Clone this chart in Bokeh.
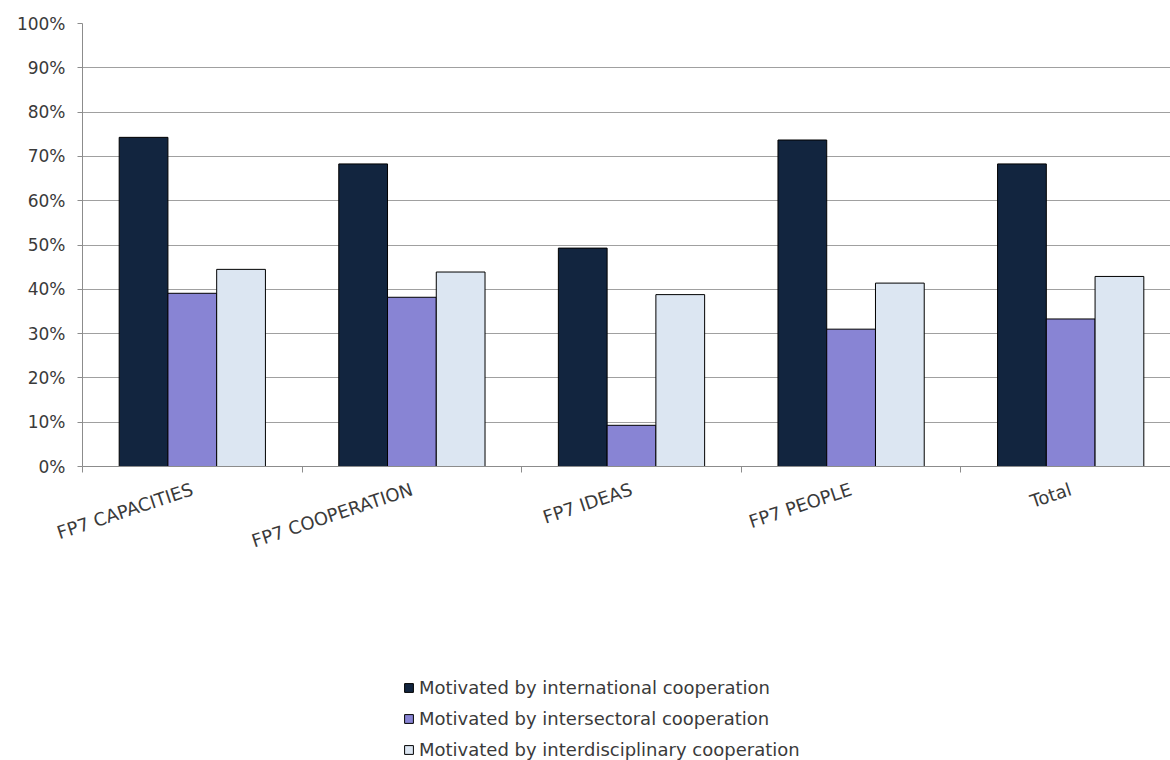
from bokeh.plotting import figure
from bokeh.layouts import column
from bokeh.models import (ColumnDataSource, FixedTicker, Range1d, Legend, LegendItem,
                          PrintfTickFormatter)
from bokeh.transform import dodge
from bokeh.embed import file_html
from bokeh.resources import INLINE

# ---------------- data ----------------
categories = ["FP7 CAPACITIES", "FP7 COOPERATION", "FP7 IDEAS", "FP7 PEOPLE", "Total"]
international = [74.3, 68.3, 49.3, 73.7, 68.3]
intersectoral = [39.1, 38.2, 9.3, 31.0, 33.3]
interdisciplinary = [44.5, 43.9, 38.8, 41.4, 42.9]
series_names = ["Motivated by international cooperation",
                "Motivated by intersectoral cooperation",
                "Motivated by interdisciplinary cooperation"]
y_ticks = list(range(0, 101, 10))

# ---------------- styling ----------------
colors = ["#12253F", "#8884D4", "#DCE6F2"]
FONT = "DejaVu Sans"
TEXT = "#3A3A3A"
AXIS = "#8C8C8C"
GRID = "#A0A0A0"

pos = list(range(1, len(categories) + 1))
boundaries = [p - 0.5 for p in pos] + [pos[-1] + 0.5]

src = ColumnDataSource(dict(x=pos, intl=international, inter=intersectoral,
                            interd=interdisciplinary))

W = 1170
H1, H2 = 600, 160
p = figure(width=W, height=H1, output_backend="svg", toolbar_location=None,
           x_range=Range1d(0.5, 0.5 + 1088 / 219.6), y_range=Range1d(0, 100),
           min_border_left=82, min_border_right=0, min_border_top=23,
           min_border_bottom=H1 - 466)
p.outline_line_color = None
p.background_fill_color = "white"
p.border_fill_color = "white"

bw = 0.222
for col, off, c in zip(["intl", "inter", "interd"], [-bw, 0, bw], colors):
    p.vbar(x=dodge("x", off, range=p.x_range), top=col, width=bw, source=src,
           fill_color=c, line_color="black", line_width=1)

# y axis
p.yaxis.ticker = FixedTicker(ticks=y_ticks)
p.yaxis.formatter = PrintfTickFormatter(format="%d%%")
p.yaxis.axis_line_color = AXIS
p.yaxis.major_tick_line_color = AXIS
p.yaxis.major_tick_out = 5
p.yaxis.major_tick_in = 0
p.yaxis.minor_tick_line_color = None
p.yaxis.major_label_standoff = 12
p.yaxis.major_label_text_font = FONT
p.yaxis.major_label_text_font_size = "17px"
p.yaxis.major_label_text_color = TEXT

# x axis
p.xaxis.ticker = FixedTicker(ticks=pos, minor_ticks=boundaries)
p.xaxis.major_label_overrides = {k: v for k, v in zip(pos, categories)}
p.xaxis.axis_line_color = AXIS
p.xaxis.major_tick_line_color = None
p.xaxis.major_tick_out = 0
p.xaxis.major_tick_in = 0
p.xaxis.minor_tick_line_color = AXIS
p.xaxis.minor_tick_out = 6
p.xaxis.minor_tick_in = 0
p.xaxis.major_label_orientation = 0.32
p.xaxis.major_label_standoff = 16
p.xaxis.major_label_text_font = FONT
p.xaxis.major_label_text_font_size = "18px"
p.xaxis.major_label_text_color = TEXT

# grid
p.xgrid.grid_line_color = None
p.ygrid.ticker = FixedTicker(ticks=y_ticks)
p.ygrid.grid_line_color = GRID
p.ygrid.grid_line_width = 1

# ---------------- legend panel ----------------
p2 = figure(width=W, height=H2, output_backend="svg", toolbar_location=None,
            x_range=Range1d(0, 1), y_range=Range1d(0, 1),
            x_axis_type=None, y_axis_type=None, min_border=0)
p2.outline_line_color = None
p2.grid.visible = False
# legend proxies (placed outside the visible range, only their legend swatches show)
proxies = [p2.vbar(x=[-10], top=[0], width=0.1, fill_color=c, line_color="black", line_width=1)
           for c in colors]
legend = Legend(items=[LegendItem(label=n, renderers=[r]) for n, r in zip(series_names, proxies)],
                location=(321, 0), orientation="vertical",
                padding=0, margin=0, spacing=10, label_height=21,
                glyph_width=11, glyph_height=11, label_standoff=5,
                border_line_color=None, background_fill_alpha=0,
                label_text_font=FONT, label_text_font_size="18px",
                label_text_color=TEXT)
p2.add_layout(legend, "center")

open("out.html", "w").write(file_html(column(p, p2, spacing=0), INLINE))
